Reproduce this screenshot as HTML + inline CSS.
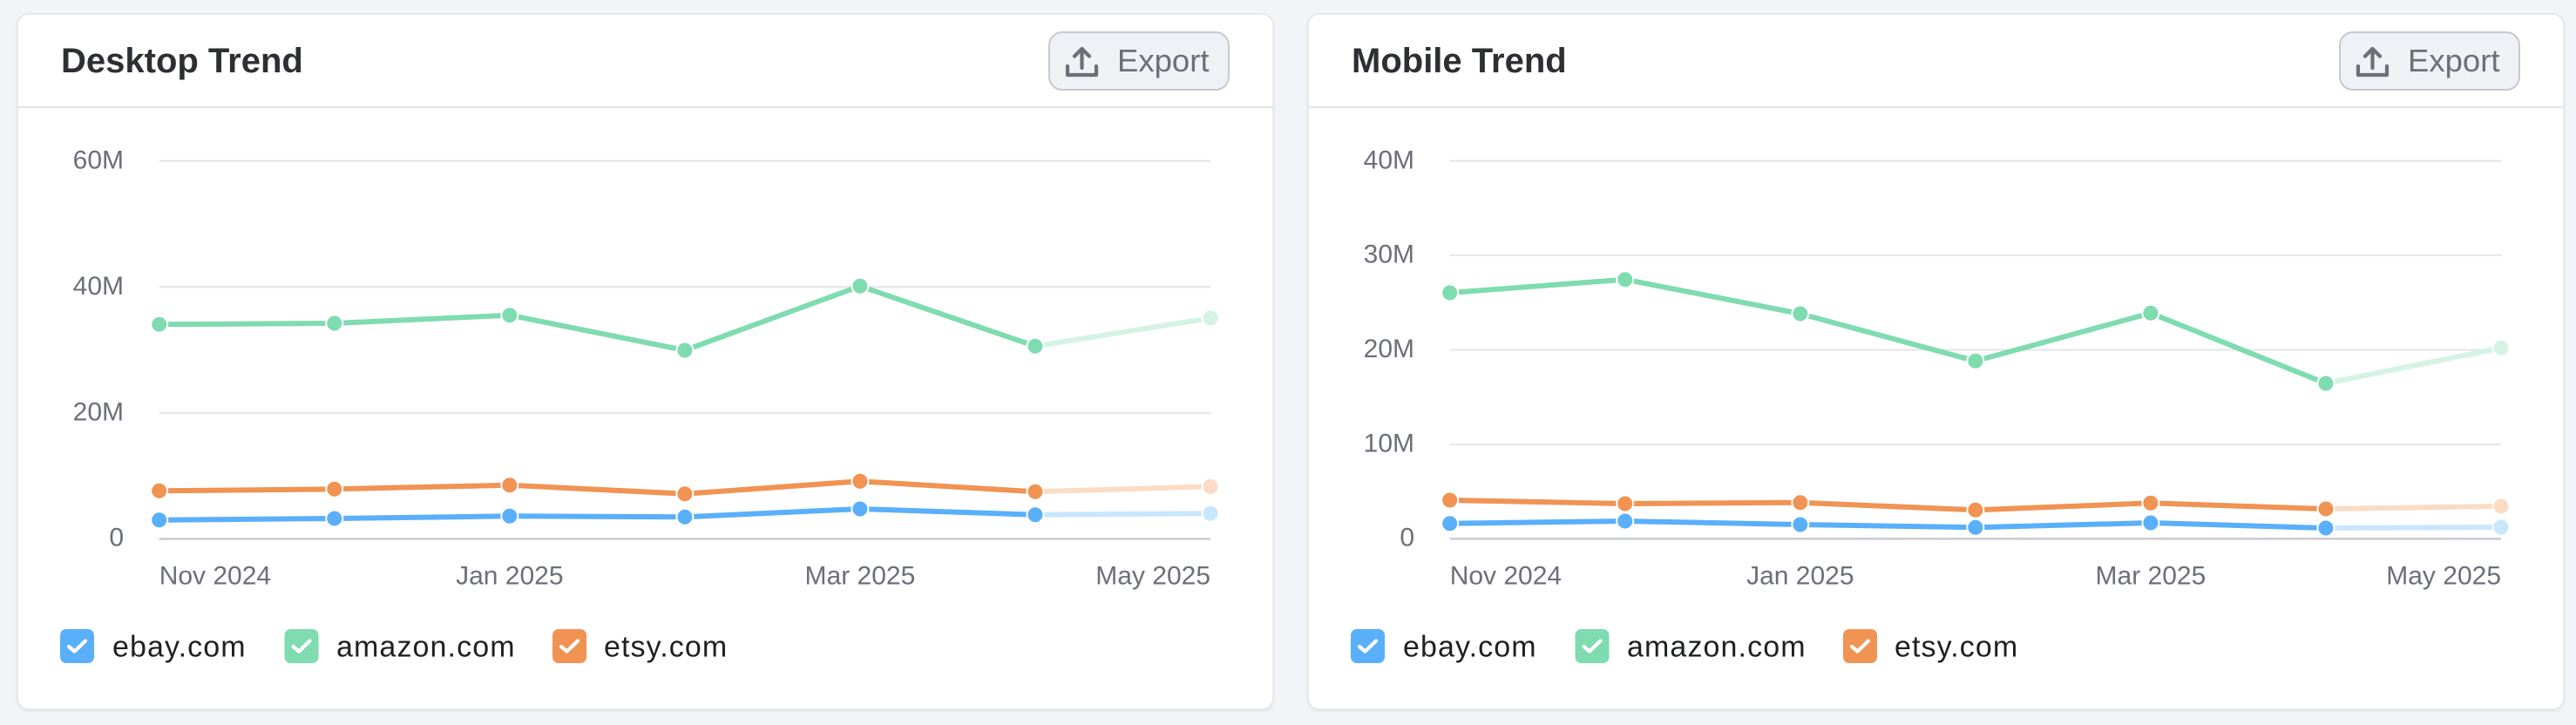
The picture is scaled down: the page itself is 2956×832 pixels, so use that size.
<!DOCTYPE html>
<html>
<head>
<meta charset="utf-8">
<style>
  html,body{margin:0;padding:0;background:#f3f4f7;}
  body{width:2956px;height:832px;overflow:hidden;}
  svg{display:block;}
  text{font-family:"Liberation Sans", Arial, sans-serif;}
</style>
</head>
<body>
<svg width="2956" height="832" viewBox="0 0 2956 832" xmlns="http://www.w3.org/2000/svg">
  <defs>
    <filter id="sh" x="-5%" y="-5%" width="110%" height="110%">
      <feDropShadow dx="0" dy="1.5" stdDeviation="1.5" flood-color="#000" flood-opacity="0.08"/>
    </filter>
    <g id="exporticon" fill="none" stroke="#6c6f7a" stroke-width="4.2" stroke-linecap="round" stroke-linejoin="round">
      <path d="M0,22 L0,32 L33,32 L33,22"/>
      <path d="M16.5,24 L16.5,2"/>
      <path d="M8,10.5 L16.5,2 L25,10.5"/>
    </g>
    <g id="check" fill="none" stroke="#ffffff" stroke-width="4.2" stroke-linecap="round" stroke-linejoin="round">
      <path d="M10,20 L16.5,25.5 L29,13.5"/>
    </g>
  </defs>

  <!-- ================= Desktop card ================= -->
  <rect x="20" y="16" width="1441" height="798" rx="13" ry="13" fill="#ffffff" stroke="#e3e4e9" stroke-width="1.5" filter="url(#sh)"/>
  <text x="70" y="83" font-size="40" font-weight="bold" fill="#2e2f33">Desktop Trend</text>
  <rect x="1204" y="37" width="206" height="66" rx="15" ry="15" fill="#f0f1f4" stroke="#c6c9d1" stroke-width="2"/>
  <use href="#exporticon" x="1225" y="54"/>
  <text x="1282" y="82" font-size="36.5" fill="#6c6f7a">Export</text>
  <rect x="20.75" y="122" width="1439.5" height="2" fill="#e3e4ea"/>

  <!-- gridlines -->
  <g fill="#e4e5eb">
    <rect x="182.7" y="183.7" width="1206.3" height="2"/>
    <rect x="182.7" y="328.3" width="1206.3" height="2"/>
    <rect x="182.7" y="473" width="1206.3" height="2"/>
  </g>
  <rect x="182.7" y="617.3" width="1206.3" height="2.4" fill="#c7c9cf"/>
  <g font-size="30" fill="#6c6e79" text-anchor="end">
    <text x="142" y="193.4">60M</text>
    <text x="142" y="338">40M</text>
    <text x="142" y="482.6">20M</text>
    <text x="142" y="626.5">0</text>
  </g>
  <g font-size="30" fill="#6c6e79">
    <text x="182.7" y="670.7">Nov 2024</text>
    <text x="584.8" y="670.7" text-anchor="middle">Jan 2025</text>
    <text x="986.9" y="670.7" text-anchor="middle">Mar 2025</text>
    <text x="1389" y="670.7" text-anchor="end">May 2025</text>
  </g>

  <!-- series lines desktop -->
  <g fill="none" stroke-width="6" stroke-linejoin="round" stroke-linecap="butt">
    <polyline stroke="#7fdbb0" points="182.7,372.3 383.75,371 584.8,361.7 785.85,402 986.9,328.3 1187.95,397.3"/>
    <polyline stroke="#d4f3e5" points="1187.95,397.3 1389,365"/>
    <polyline stroke="#f09353" points="182.7,563.3 383.75,561.3 584.8,556.7 785.85,566.7 986.9,552.3 1187.95,564.3"/>
    <polyline stroke="#fadcc5" points="1187.95,564.3 1389,558.3"/>
    <polyline stroke="#5aaffa" points="182.7,596.7 383.75,595 584.8,592.3 785.85,593.3 986.9,584 1187.95,590.7"/>
    <polyline stroke="#c9e6fc" points="1187.95,590.7 1389,589.3"/>
  </g>
  <g stroke="#ffffff" stroke-width="2">
    <g fill="#7fdbb0">
      <circle cx="182.7" cy="372.3" r="9.5"/><circle cx="383.75" cy="371" r="9.5"/><circle cx="584.8" cy="361.7" r="9.5"/>
      <circle cx="785.85" cy="402" r="9.5"/><circle cx="986.9" cy="328.3" r="9.5"/><circle cx="1187.95" cy="397.3" r="9.5"/>
    </g>
    <circle cx="1389" cy="365" r="9.5" fill="#d4f3e5"/>
    <g fill="#f09353">
      <circle cx="182.7" cy="563.3" r="9.5"/><circle cx="383.75" cy="561.3" r="9.5"/><circle cx="584.8" cy="556.7" r="9.5"/>
      <circle cx="785.85" cy="566.7" r="9.5"/><circle cx="986.9" cy="552.3" r="9.5"/><circle cx="1187.95" cy="564.3" r="9.5"/>
    </g>
    <circle cx="1389" cy="558.3" r="9.5" fill="#fadcc5"/>
    <g fill="#5aaffa">
      <circle cx="182.7" cy="596.7" r="9.5"/><circle cx="383.75" cy="595" r="9.5"/><circle cx="584.8" cy="592.3" r="9.5"/>
      <circle cx="785.85" cy="593.3" r="9.5"/><circle cx="986.9" cy="584" r="9.5"/><circle cx="1187.95" cy="590.7" r="9.5"/>
    </g>
    <circle cx="1389" cy="589.3" r="9.5" fill="#c9e6fc"/>
  </g>

  <!-- legend desktop -->
  <rect x="69" y="722" width="39" height="39" rx="7" fill="#5aaffa"/>
  <use href="#check" x="69" y="722"/>
  <text x="129" y="753.3" font-size="34" letter-spacing="1.1" fill="#1f2025">ebay.com</text>
  <rect x="326.5" y="722" width="39" height="39" rx="7" fill="#7fdbb0"/>
  <use href="#check" x="326.5" y="722"/>
  <text x="386" y="753.3" font-size="34" letter-spacing="1.1" fill="#1f2025">amazon.com</text>
  <rect x="634" y="722" width="39" height="39" rx="7" fill="#f09353"/>
  <use href="#check" x="634" y="722"/>
  <text x="693" y="753.3" font-size="34" letter-spacing="1.1" fill="#1f2025">etsy.com</text>

  <!-- ================= Mobile card ================= -->
  <rect x="1501" y="16" width="1441" height="798" rx="13" ry="13" fill="#ffffff" stroke="#e3e4e9" stroke-width="1.5" filter="url(#sh)"/>
  <text x="1551" y="83" font-size="40" font-weight="bold" fill="#2e2f33">Mobile Trend</text>
  <rect x="2685" y="37" width="206" height="66" rx="15" ry="15" fill="#f0f1f4" stroke="#c6c9d1" stroke-width="2"/>
  <use href="#exporticon" x="2706" y="54"/>
  <text x="2763" y="82" font-size="36.5" fill="#6c6f7a">Export</text>
  <rect x="1501.75" y="122" width="1439.5" height="2" fill="#e3e4ea"/>

  <g fill="#e4e5eb">
    <rect x="1663.7" y="183.6" width="1206.3" height="2"/>
    <rect x="1663.7" y="291.8" width="1206.3" height="2"/>
    <rect x="1663.7" y="400.5" width="1206.3" height="2"/>
    <rect x="1663.7" y="509" width="1206.3" height="2"/>
  </g>
  <rect x="1663.7" y="617.1" width="1206.3" height="2.4" fill="#c7c9cf"/>
  <g font-size="30" fill="#6c6e79" text-anchor="end">
    <text x="1623" y="193.3">40M</text>
    <text x="1623" y="301.5">30M</text>
    <text x="1623" y="410.2">20M</text>
    <text x="1623" y="518.5">10M</text>
    <text x="1623" y="626.5">0</text>
  </g>
  <g font-size="30" fill="#6c6e79">
    <text x="1663.7" y="670.7">Nov 2024</text>
    <text x="2065.8" y="670.7" text-anchor="middle">Jan 2025</text>
    <text x="2467.9" y="670.7" text-anchor="middle">Mar 2025</text>
    <text x="2870" y="670.7" text-anchor="end">May 2025</text>
  </g>

  <g fill="none" stroke-width="6" stroke-linejoin="round" stroke-linecap="butt">
    <polyline stroke="#7fdbb0" points="1663.7,336 1864.75,320.7 2065.8,360 2266.85,414.3 2467.9,359.3 2668.95,440"/>
    <polyline stroke="#d4f3e5" points="2668.95,440 2870,399.3"/>
    <polyline stroke="#f09353" points="1663.7,574 1864.75,578 2065.8,576.7 2266.85,585.3 2467.9,577.3 2668.95,584"/>
    <polyline stroke="#fadcc5" points="2668.95,584 2870,581"/>
    <polyline stroke="#5aaffa" points="1663.7,600.7 1864.75,598 2065.8,602 2266.85,605.3 2467.9,600 2668.95,606"/>
    <polyline stroke="#c9e6fc" points="2668.95,606 2870,605"/>
  </g>
  <g stroke="#ffffff" stroke-width="2">
    <g fill="#7fdbb0">
      <circle cx="1663.7" cy="336" r="9.5"/><circle cx="1864.75" cy="320.7" r="9.5"/><circle cx="2065.8" cy="360" r="9.5"/>
      <circle cx="2266.85" cy="414.3" r="9.5"/><circle cx="2467.9" cy="359.3" r="9.5"/><circle cx="2668.95" cy="440" r="9.5"/>
    </g>
    <circle cx="2870" cy="399.3" r="9.5" fill="#d4f3e5"/>
    <g fill="#f09353">
      <circle cx="1663.7" cy="574" r="9.5"/><circle cx="1864.75" cy="578" r="9.5"/><circle cx="2065.8" cy="576.7" r="9.5"/>
      <circle cx="2266.85" cy="585.3" r="9.5"/><circle cx="2467.9" cy="577.3" r="9.5"/><circle cx="2668.95" cy="584" r="9.5"/>
    </g>
    <circle cx="2870" cy="581" r="9.5" fill="#fadcc5"/>
    <g fill="#5aaffa">
      <circle cx="1663.7" cy="600.7" r="9.5"/><circle cx="1864.75" cy="598" r="9.5"/><circle cx="2065.8" cy="602" r="9.5"/>
      <circle cx="2266.85" cy="605.3" r="9.5"/><circle cx="2467.9" cy="600" r="9.5"/><circle cx="2668.95" cy="606" r="9.5"/>
    </g>
    <circle cx="2870" cy="605" r="9.5" fill="#c9e6fc"/>
  </g>

  <rect x="1550" y="722" width="39" height="39" rx="7" fill="#5aaffa"/>
  <use href="#check" x="1550" y="722"/>
  <text x="1610" y="753.3" font-size="34" letter-spacing="1.1" fill="#1f2025">ebay.com</text>
  <rect x="1807.5" y="722" width="39" height="39" rx="7" fill="#7fdbb0"/>
  <use href="#check" x="1807.5" y="722"/>
  <text x="1867" y="753.3" font-size="34" letter-spacing="1.1" fill="#1f2025">amazon.com</text>
  <rect x="2115" y="722" width="39" height="39" rx="7" fill="#f09353"/>
  <use href="#check" x="2115" y="722"/>
  <text x="2174" y="753.3" font-size="34" letter-spacing="1.1" fill="#1f2025">etsy.com</text>
</svg>
</body>
</html>
